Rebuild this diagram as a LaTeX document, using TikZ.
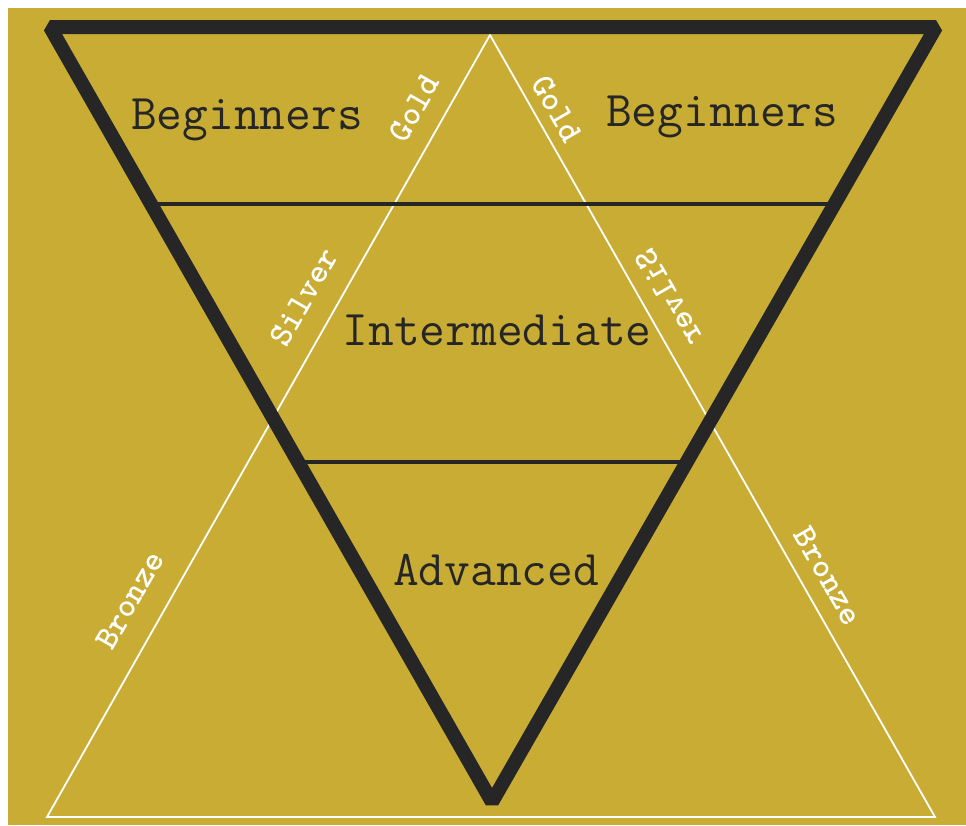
\documentclass[tikz,border=0pt]{standalone}
\usepackage{fontspec}
\usepackage{tikz}
\usetikzlibrary{calc}

\definecolor{goldbg}{RGB}{200,172,52}
\definecolor{inkdark}{RGB}{38,38,38}

\begin{document}
\begin{tikzpicture}[x=1pt, y=-1pt,
    level/.style={font=\fontsize{50}{50}\selectfont\ttfamily, text=inkdark, inner sep=0pt},
    medal/.style={font=\fontsize{34}{34}\selectfont\ttfamily\bfseries, text=white, inner sep=0pt}]
  \useasboundingbox (0,0) rectangle (966,825);
  \fill[white] (0,0) rectangle (966,825);
  \fill[goldbg] (8,8) rectangle (966,825);

  % medal triangle (thin, white)
  \coordinate (mtop) at (490,35);
  \coordinate (mleft) at (47,817);
  \coordinate (mright) at (935,817);
  \draw[white, line width=1.8pt] (mtop) -- (mleft) -- (mright) -- cycle;

  % level triangle (thick, dark)
  \coordinate (ltl) at (50,27);
  \coordinate (ltr) at (936,27);
  \coordinate (lbot) at (492,802);
  \draw[inkdark, line width=4pt] ($(ltl)!0.229!(lbot)$) -- ($(ltr)!0.229!(lbot)$);
  \draw[inkdark, line width=4pt] ($(ltl)!0.561!(lbot)$) -- ($(ltr)!0.561!(lbot)$);
  \draw[inkdark, line width=14pt, line join=bevel] (ltl) -- (ltr) -- (lbot) -- cycle;

  % level names
  \node[level] (begleft) at (247,120) {Beginners};
  \node[level] (begright) at (722,117) {Beginners};
  \node[level] (inter) at (497,330) {Intermediate};
  \node[level] (adv) at (496,570) {Advanced};

  % medal names along the white sides
  \node[medal, rotate=60] (goldleft) at (414,108) {Gold};
  \node[medal, rotate=-60] (goldright) at (557,109) {Gold};
  \node[medal, rotate=60] (silverleft) at (304,297) {Silver};
  \node[medal, rotate=-60, yscale=-1] (silverright) at (669,298) {Silver};
  \node[medal, rotate=60] (bronzeleft) at (130,600) {Bronze};
  \node[medal, rotate=-60] (bronzeright) at (828,576) {Bronze};
\end{tikzpicture}
\end{document}
